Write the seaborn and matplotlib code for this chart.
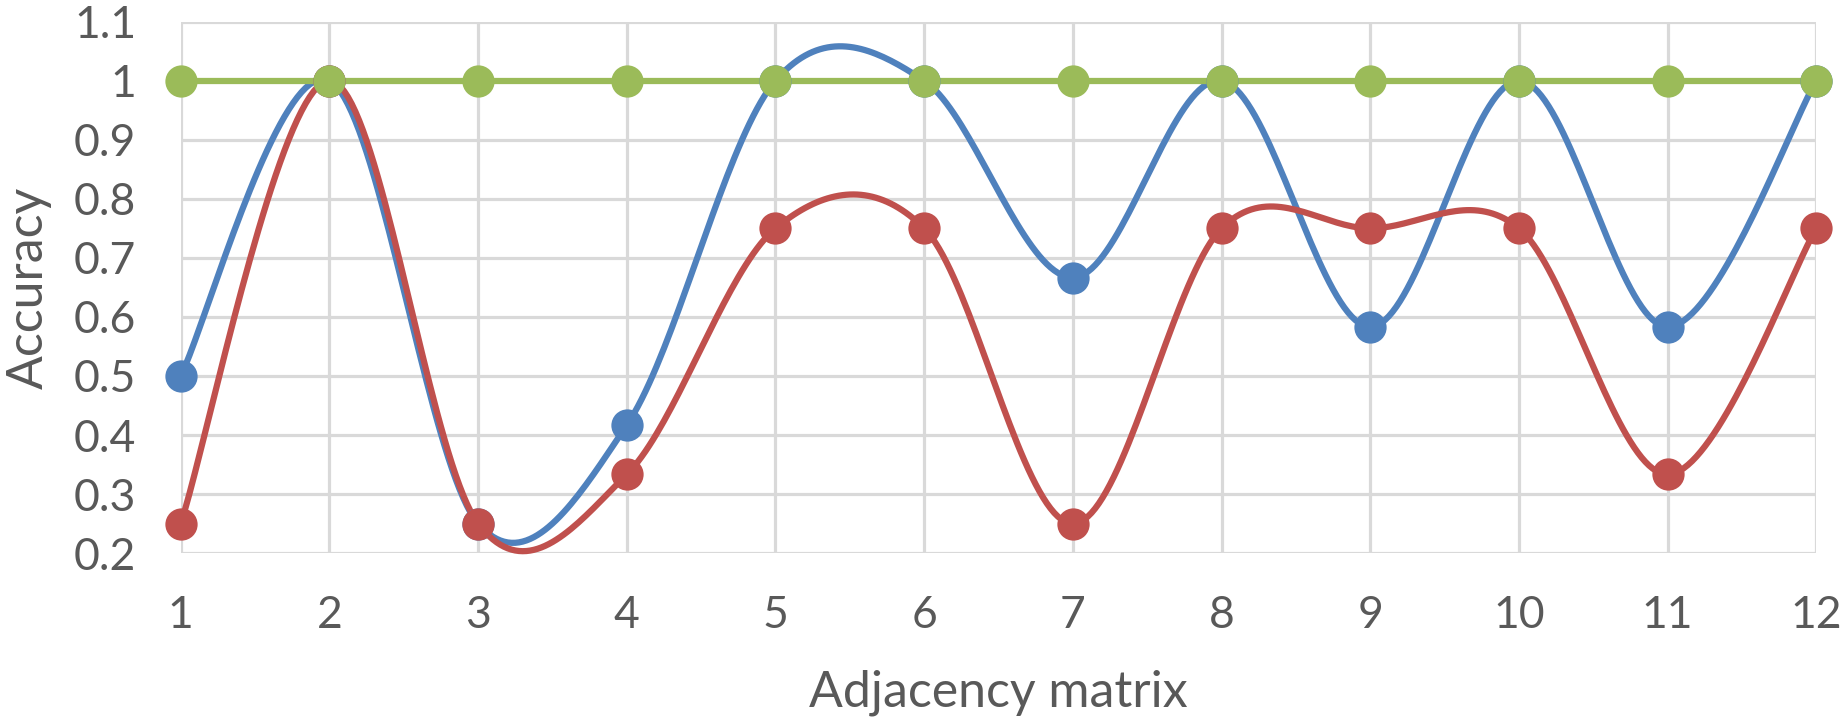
import numpy as np
import pandas as pd
import matplotlib
matplotlib.use("Agg")
import matplotlib.pyplot as plt
import seaborn as sns

# ---- data ----
x_vals = [1, 2, 3, 4, 5, 6, 7, 8, 9, 10, 11, 12]
blue_vals = [0.5, 1.0, 0.25, 0.4167, 1.0, 1.0, 0.6667, 1.0, 0.5833, 1.0, 0.5833, 1.0]
red_vals = [0.25, 1.0, 0.25, 0.3333, 0.75, 0.75, 0.25, 0.75, 0.75, 0.75, 0.3333, 0.75]
green_vals = [1.0] * 12
series_names = ["Series 1", "Series 2", "Series 3"]
colors = ["#4F81BD", "#C0504D", "#9BBB59"]
y_ticks = [0.2, 0.3, 0.4, 0.5, 0.6, 0.7, 0.8, 0.9, 1.0, 1.1]
y_tick_labels = ["0.2", "0.3", "0.4", "0.5", "0.6", "0.7", "0.8", "0.9", "1", "1.1"]


def smooth(xs, ys, n=40):
    """Excel-like smoothed line (uniform Catmull-Rom Bezier) for display."""
    xs = np.asarray(xs, float)
    ys = np.asarray(ys, float)
    P = np.column_stack([xs, ys])
    out = []
    m = len(P)
    for i in range(m - 1):
        p0 = P[i - 1] if i > 0 else P[i]
        p1 = P[i]
        p2 = P[i + 1]
        p3 = P[i + 2] if i + 2 < m else P[i + 1]
        c1 = p1 + (p2 - p0) / 6.0
        c2 = p2 - (p3 - p1) / 6.0
        t = np.linspace(0, 1, n, endpoint=(i == m - 2))[:, None]
        b = ((1 - t) ** 3) * p1 + 3 * ((1 - t) ** 2) * t * c1 + 3 * (1 - t) * t ** 2 * c2 + t ** 3 * p2
        out.append(b)
    out = np.vstack(out)
    return out[:, 0], out[:, 1]


sns.set_theme(style="white")
plt.rcParams["font.family"] = ["Lato", "DejaVu Sans"]

fig = plt.figure(figsize=(18.44, 7.23), dpi=100)
ax = fig.add_axes([0.098, 0.235, 0.887, 0.735])

for name, vals, col in zip(series_names, [blue_vals, red_vals, green_vals], colors):
    sx, sy = smooth(x_vals, vals)
    dfl = pd.DataFrame({"x": sx, "y": sy})
    sns.lineplot(data=dfl, x="x", y="y", sort=False, color=col, linewidth=4.5,
                 ax=ax, clip_on=False, estimator=None)
    dfp = pd.DataFrame({"x": x_vals, "y": vals})
    sns.scatterplot(data=dfp, x="x", y="y", color=col, s=540, linewidth=0,
                    ax=ax, clip_on=False, zorder=3)

ax.set_xlim(1, 12)
ax.set_ylim(0.2, 1.1)
ax.set_xticks(x_vals)
ax.set_xticklabels([str(v) for v in x_vals])
ax.set_yticks(y_ticks)
ax.set_yticklabels(y_tick_labels)

grid_col = "#D9D9D9"
ax.grid(True, color=grid_col, linewidth=2.3)
ax.set_axisbelow(True)
for s in ax.spines.values():
    s.set_visible(False)

ax.tick_params(axis="both", length=0, labelsize=32, labelcolor="#595959")
ax.tick_params(axis="x", pad=30)
ax.tick_params(axis="y", pad=32)

ax.set_xlabel("Adjacency matrix", fontsize=36, color="#595959", labelpad=24)
ax.set_ylabel("Accuracy", fontsize=36, color="#595959", labelpad=16)

fig.savefig("out.png", dpi=100)
